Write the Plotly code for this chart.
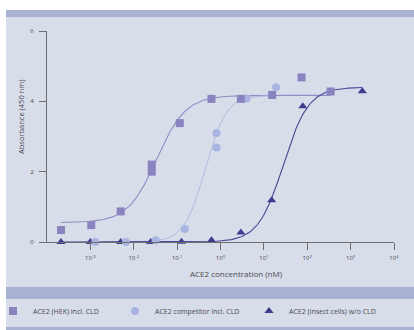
import numpy as np
import plotly.graph_objects as go

# ---- data ----
hek_conc = [0.00021, 0.00105, 0.005, 0.026, 0.026, 0.115, 0.62, 2.95, 15.5, 74, 347]
hek_abs = [0.34, 0.48, 0.87, 2.2, 2.0, 3.38, 4.07, 4.07, 4.18, 4.68, 4.28]

comp_conc = [0.0013, 0.0066, 0.032, 0.15, 0.81, 0.81, 4.0, 19]
comp_abs = [0.0, 0.0, 0.05, 0.37, 2.69, 3.10, 4.08, 4.40]

ins_conc = [0.00021, 0.001, 0.005, 0.0245, 0.126, 0.62, 2.95, 15.1, 79, 1860]
ins_abs = [0.0, 0.0, 0.0, 0.0, 0.01, 0.05, 0.27, 1.19, 3.86, 4.29]

# 4-parameter logistic fit parameters: bottom, top, logEC50, hill
hek_fit = [0.55, 4.17, -1.47, 1.3]
comp_fit = [0.0, 4.17, -0.35, 1.8]
ins_fit = [0.0, 4.4, 1.45, 1.5]

names = ["ACE2 (HEK) incl. CLD", "ACE2 competitor incl. CLD", "ACE2 (insect cells) w/o CLD"]
x_tickvals = [1e-3, 1e-2, 1e-1, 1e0, 1e1, 1e2, 1e3, 1e4]
x_ticktext = ["10<sup>-3</sup>", "10<sup>-2</sup>", "10<sup>-1</sup>", "10<sup>0</sup>",
              "10<sup>1</sup>", "10<sup>2</sup>", "10<sup>3</sup>", "10<sup>4</sup>"]
y_tickvals = [0, 2, 4, 6]

# ---- styles ----
c_hek = "#8984c0"
c_comp = "#a9b5e0"
c_ins = "#3f3c8e"
c_hek_line = "#928dc6"
c_comp_line = "#acb6df"
c_ins_line = "#4b4897"
bg = "#d8ddea"
band = "#a9b1d3"
axis_col = "#6e6e6e"
txt = "#4a4a52"
FONT = "Open Sans"

W, H = 414, 330
ML, MR, MT, MB = 47, 20, 31, 88
PW, PH = W - ML - MR, H - MT - MB


def px(x):
    return (x - ML) / PW


def py(y):
    return (H - MB - y) / PH


def curve(conc, p):
    lo, hi = np.log10(min(conc)), np.log10(max(conc))
    lx = np.linspace(lo, hi, 300)
    b, t, x0, h = p
    return 10 ** lx, b + (t - b) / (1 + 10 ** (h * (x0 - lx)))


fig = go.Figure()

for conc, p, col, w in [(hek_conc, hek_fit, c_hek_line, 1.1),
                        (comp_conc, comp_fit, c_comp_line, 0.9),
                        (ins_conc, ins_fit, c_ins_line, 1.1)]:
    cx, cy = curve(conc, p)
    fig.add_trace(go.Scatter(x=cx, y=cy, mode="lines", line=dict(color=col, width=w),
                             showlegend=False, hoverinfo="skip", cliponaxis=False))

fig.add_trace(go.Scatter(x=ins_conc, y=ins_abs, mode="markers", name=names[2],
                         marker=dict(symbol="triangle-up", size=8, color=c_ins),
                         cliponaxis=False, legend="legend3"))
fig.add_trace(go.Scatter(x=comp_conc, y=comp_abs, mode="markers", name=names[1],
                         marker=dict(symbol="circle", size=8, color=c_comp),
                         cliponaxis=False, legend="legend2"))
fig.add_trace(go.Scatter(x=hek_conc, y=hek_abs, mode="markers", name=names[0],
                         marker=dict(symbol="square", size=8, color=c_hek),
                         cliponaxis=False, legend="legend"))

shapes = [
    dict(type="rect", xref="paper", yref="paper", x0=px(6), x1=px(414), y0=py(10), y1=py(330),
         fillcolor=bg, line=dict(width=0), layer="below"),
    dict(type="rect", xref="paper", yref="paper", x0=px(6), x1=px(414), y0=py(10), y1=py(17),
         fillcolor=band, line=dict(width=0), layer="below"),
    dict(type="rect", xref="paper", yref="paper", x0=px(6), x1=px(414), y0=py(287), y1=py(299),
         fillcolor=band, line=dict(width=0), layer="below"),
    dict(type="rect", xref="paper", yref="paper", x0=px(6), x1=px(414), y0=py(327), y1=py(330),
         fillcolor=band, line=dict(width=0), layer="below"),
]

annotations = [
    dict(text="Absorbance (450 nm)", xref="paper", yref="paper", x=px(21), y=py(117),
         textangle=-90, showarrow=False, font=dict(family=FONT, size=7.5, color=txt),
         xanchor="center", yanchor="middle"),
    dict(text="ACE2 concentration (nM)", xref="paper", yref="paper", x=px(237), y=py(273),
         showarrow=False, font=dict(family=FONT, size=8, color=txt),
         xanchor="center", yanchor="middle"),
]

leg_common = dict(orientation="h", xanchor="left", yanchor="middle", bgcolor="rgba(0,0,0,0)",
                  font=dict(family=FONT, size=7, color=txt), itemwidth=30)

fig.update_layout(
    width=W, height=H,
    margin=dict(l=ML, r=MR, t=MT, b=MB, autoexpand=False),
    paper_bgcolor="white",
    plot_bgcolor="rgba(0,0,0,0)",
    shapes=shapes,
    annotations=annotations,
    legend=dict(x=px(-7), y=py(311), **leg_common),
    legend2=dict(x=px(115), y=py(311), **leg_common),
    legend3=dict(x=px(249), y=py(311), **leg_common),
    xaxis=dict(type="log", range=[-4, 4], tickvals=x_tickvals, ticktext=x_ticktext,
               showline=True, linecolor=axis_col, linewidth=1.2, ticks="outside", ticklen=7,
               tickcolor=axis_col, tickwidth=1, showgrid=False, zeroline=False,
               ticklabelstandoff=3,
               tickfont=dict(family=FONT, size=6, color=txt)),
    yaxis=dict(range=[0, 6], tickvals=y_tickvals, showline=True, linecolor=axis_col,
               linewidth=1.2, ticks="outside", ticklen=7, tickcolor=axis_col, tickwidth=1,
               showgrid=False, zeroline=False, ticklabelstandoff=4,
               tickfont=dict(family=FONT, size=6, color=txt)),
)

fig.write_html("out.html")
